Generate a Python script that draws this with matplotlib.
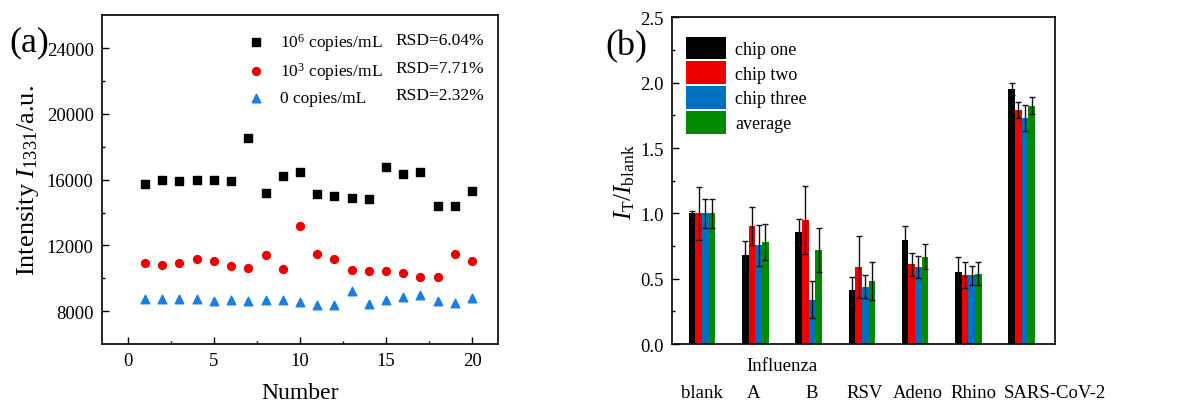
import numpy as np
import matplotlib.pyplot as plt
from matplotlib.transforms import blended_transform_factory

plt.rcParams['font.family'] = ['Liberation Serif', 'DejaVu Serif']
plt.rcParams['mathtext.fontset'] = 'custom'
plt.rcParams['mathtext.rm'] = 'Liberation Serif'
plt.rcParams['mathtext.it'] = 'Liberation Serif:italic'

# ---- panel (a) data
number = np.arange(1, 21)
high = [15730, 16010, 15930, 16010, 16010, 15930, 18510, 15180, 16210, 16440,
        15120, 15010, 14870, 14830, 16760, 16340, 16460, 14400, 14400, 15320]
mid = [10930, 10790, 10930, 11170, 11070, 10720, 10620, 11400, 10540, 13160,
       11460, 11190, 10480, 10440, 10440, 10320, 10110, 10090, 11480, 11030]
zero = [8770, 8770, 8770, 8770, 8630, 8690, 8650, 8710, 8670, 8590,
        8390, 8390, 9220, 8430, 8690, 8890, 9000, 8630, 8510, 8810]
labels_a = ['10$^6$ copies/mL', '10$^3$ copies/mL', '0 copies/mL']
rsd = ['RSD=6.04%', 'RSD=7.71%', 'RSD=2.32%']

# ---- panel (b) data
groups = ['blank', 'A', 'B', 'RSV', 'Adeno', 'Rhino', 'SARS-CoV-2']
chips = ['chip one', 'chip two', 'chip three', 'average']
vals = [
    [1.00, 0.68, 0.855, 0.41, 0.80, 0.555, 1.95],
    [1.00, 0.90, 0.95, 0.59, 0.61, 0.53, 1.79],
    [1.00, 0.755, 0.34, 0.44, 0.59, 0.525, 1.73],
    [1.00, 0.78, 0.72, 0.48, 0.67, 0.54, 1.825],
]
errs = [
    [0.02, 0.11, 0.10, 0.10, 0.10, 0.11, 0.045],
    [0.20, 0.145, 0.26, 0.24, 0.09, 0.10, 0.06],
    [0.11, 0.155, 0.14, 0.09, 0.085, 0.07, 0.10],
    [0.11, 0.14, 0.17, 0.145, 0.095, 0.09, 0.065],
]
colors_b = ['#000000', '#ee0000', '#0070c0', '#008a00']

fig = plt.figure(figsize=(11.8, 4.06), dpi=100)

# panel (a)
ax1 = fig.add_axes([0.0864, 0.150, 0.3356, 0.810])
ax1.scatter(number, high, marker='s', s=28, color='black', label=labels_a[0])
ax1.scatter(number, mid, marker='o', s=32, color='#ee0000', label=labels_a[1])
ax1.scatter(number, zero, marker='^', s=38, color='#1a7fe0', label=labels_a[2])
ax1.set_xlim(-1.5, 21.5)
ax1.set_ylim(6000, 26000)
ax1.set_xticks([0, 5, 10, 15, 20])
ax1.set_xticks(np.arange(0, 21, 2.5), minor=True)
ax1.set_yticks([8000, 12000, 16000, 20000, 24000])
ax1.set_yticks(np.arange(8000, 26000, 2000), minor=True)
ax1.tick_params(direction='in', labelsize=13.5, length=5, width=1, pad=6)
ax1.tick_params(which='minor', direction='in', length=2.5, width=1)
ax1.set_xlabel('Number', fontsize=17, labelpad=9)
ax1.set_ylabel('Intensity $I_{1331}$/a.u.', fontsize=19, labelpad=4)
for sp in ax1.spines.values():
    sp.set_linewidth(1.2)
ax1.legend(loc='upper left', bbox_to_anchor=(0.315, 0.99), frameon=False,
           fontsize=12.5, handletextpad=0.35, labelspacing=0.45, markerscale=1.0,
           borderaxespad=0.3)
for i, t in enumerate(rsd):
    ax1.text(0.74, 0.924 - i * 0.0835, t, transform=ax1.transAxes,
             fontsize=12.5, va='center', ha='left')
fig.text(0.008, 0.895, '(a)', fontsize=26, va='center', ha='left')

# panel (b)
ax2 = fig.add_axes([0.5695, 0.150, 0.3246, 0.805])
pos = np.arange(1, len(groups) + 1)
w = 0.125
for k in range(len(chips)):
    x = pos + (k - 1.5) * w
    ax2.bar(x, vals[k], width=w, color=colors_b[k], label=chips[k], zorder=2)
for k in range(len(chips)):
    x = pos + (k - 1.5) * w
    ax2.errorbar(x, vals[k], yerr=errs[k], fmt='none', ecolor='#111111',
                 elinewidth=1, capsize=2.5, capthick=1, zorder=3)
ax2.set_xlim(0.436, 7.626)
ax2.set_ylim(0, 2.5)
ax2.set_yticks(np.arange(0, 2.51, 0.5))
ax2.set_yticks(np.arange(0, 2.51, 0.25), minor=True)
ax2.set_xticks([])
ax2.tick_params(axis='y', direction='in', labelsize=13.5, length=5, width=1, pad=6)
ax2.tick_params(axis='y', which='minor', direction='in', length=2.5, width=1)
ax2.set_ylabel('$I_\\mathrm{T}/I_\\mathrm{blank}$', fontsize=18, labelpad=2)
for sp in ax2.spines.values():
    sp.set_linewidth(1.2)
ax2.legend(loc='upper left', bbox_to_anchor=(0.0, 0.985), frameon=False,
           fontsize=13, handlelength=2.2, handleheight=1.55, labelspacing=0.12,
           handletextpad=0.5, borderaxespad=0.5, borderpad=0.3)

trans = blended_transform_factory(ax2.transData, ax2.transAxes)
shift = [0, -0.03, 0.05, 0.05, 0.05, 0.1, 0.62]
for p, g, s in zip(pos, groups, shift):
    ax2.text(p + s, -0.147, g, transform=trans, fontsize=13.5,
             ha='center', va='center')
ax2.text((pos[1] + pos[2]) / 2, -0.067, 'Influenza', transform=trans,
         fontsize=13.5, ha='center', va='center')
fig.text(0.513, 0.885, '(b)', fontsize=26, va='center', ha='left')

fig.savefig('out.png', dpi=100)
